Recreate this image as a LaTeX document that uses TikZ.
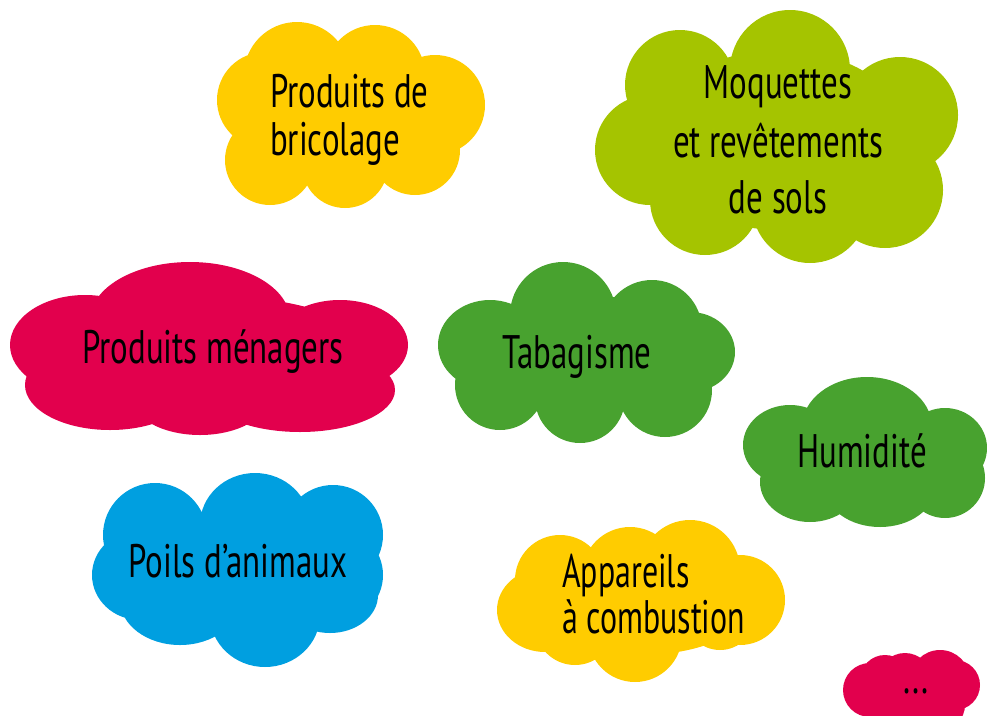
\documentclass[tikz,border=0pt]{standalone}
\usepackage{fontspec}
\setmainfont{PT Sans}
\definecolor{cyellow}{HTML}{FFCC00}
\definecolor{clime}{HTML}{A5C400}
\definecolor{ccrimson}{HTML}{E2004D}
\definecolor{cgreen}{HTML}{48A22F}
\definecolor{cblue}{HTML}{009FE0}
\tikzset{
  lbl/.style={font=\fontsize{47}{56}\selectfont, xscale=0.7, transform shape, inner sep=0pt, text=black},
}
\begin{document}
\begin{tikzpicture}[x=1pt,y=-1pt]
\useasboundingbox (0,0) rectangle (987,715);
% Produits de bricolage
\fill[cyellow] (297,75) circle [radius=53] (375,75) circle [radius=50]
  (435,105) circle [radius=50] (265,100) circle [radius=48]
  (270,160) circle [radius=45] (345,165) circle [radius=43]
  (415,150) circle [radius=45] (350,120) ellipse [x radius=90, y radius=60];
\node[lbl, anchor=base west] (b1) at (270,107) {Produits de};
\node[lbl, anchor=base west] (b2) at (270,155) {bricolage};
% Moquettes
\fill[clime] (680,85) circle [radius=55] (790,70) circle [radius=60]
  (900,115) circle [radius=58] (650,150) circle [radius=55]
  (705,200) circle [radius=55] (810,205) circle [radius=58]
  (885,190) circle [radius=58] (780,140) ellipse [x radius=130, y radius=90];
\node[lbl, anchor=base] (m1) at (778,98) {Moquettes};
\node[lbl, anchor=base] (m2) at (778,157) {et revêtements};
\node[lbl, anchor=base] (m3) at (778,213) {de sols};
% Produits menagers
\fill[ccrimson] (190,320) ellipse [x radius=100, y radius=58]
  (85,345) ellipse [x radius=75, y radius=50]
  (340,345) ellipse [x radius=68, y radius=45]
  (110,385) ellipse [x radius=85, y radius=45]
  (200,395) ellipse [x radius=70, y radius=40]
  (300,390) ellipse [x radius=95, y radius=42]
  (200,350) ellipse [x radius=170, y radius=55];
\node[lbl, anchor=base] (pm) at (213,363) {Produits ménagers};
% Tabagisme
\fill[cgreen] (563,315) circle [radius=53]
  (490,345) ellipse [x radius=52, y radius=45]
  (652,330) circle [radius=50]
  (690,352) ellipse [x radius=45, y radius=40]
  (665,390) circle [radius=47] (500,385) circle [radius=45]
  (580,398) circle [radius=45]
  (585,355) ellipse [x radius=110, y radius=60];
\node[lbl, anchor=base] (tb) at (577,368) {Tabagisme};
% Humidite
\fill[cgreen] (867,427) ellipse [x radius=65, y radius=50]
  (790,445) ellipse [x radius=47, y radius=40]
  (945,448) ellipse [x radius=42, y radius=40]
  (810,482) ellipse [x radius=50, y radius=40]
  (880,487) ellipse [x radius=55, y radius=40]
  (945,478) circle [radius=40]
  (865,455) ellipse [x radius=90, y radius=40];
\node[lbl, anchor=base] (hu) at (862,467) {Humidité};
% Poils d'animaux
\fill[cblue] (155,535) circle [radius=52]
  (255,525) ellipse [x radius=55, y radius=52]
  (333,535) circle [radius=50]
  (140,575) ellipse [x radius=48, y radius=45]
  (340,575) ellipse [x radius=43, y radius=45]
  (180,600) ellipse [x radius=60, y radius=45]
  (265,615) ellipse [x radius=55, y radius=52]
  (330,595) ellipse [x radius=48, y radius=38]
  (240,570) ellipse [x radius=120, y radius=60];
\node[lbl, anchor=base] (pa) at (238,577) {Poils d’animaux};
% Appareils a combustion
\fill[cyellow] (560,580) circle [radius=45] (630,575) circle [radius=48]
  (690,570) circle [radius=50] (740,600) circle [radius=45]
  (545,610) ellipse [x radius=48, y radius=42]
  (575,625) circle [radius=40] (635,635) circle [radius=47]
  (720,615) circle [radius=35]
  (640,605) ellipse [x radius=110, y radius=50];
\node[lbl, anchor=base west, xscale=0.97] (a1) at (562,587) {Appareils};
\node[lbl, anchor=base west, xscale=0.97] (a2) at (562,633) {à combustion};
% ...
\fill[ccrimson] (870,690) circle [radius=27] (885,680) circle [radius=25]
  (905,680) circle [radius=27] (940,680) circle [radius=30]
  (955,685) circle [radius=25] (900,705) circle [radius=25]
  (940,705) circle [radius=25];
\node[lbl, anchor=base] (dots) at (916,693) {...};
\end{tikzpicture}
\end{document}
